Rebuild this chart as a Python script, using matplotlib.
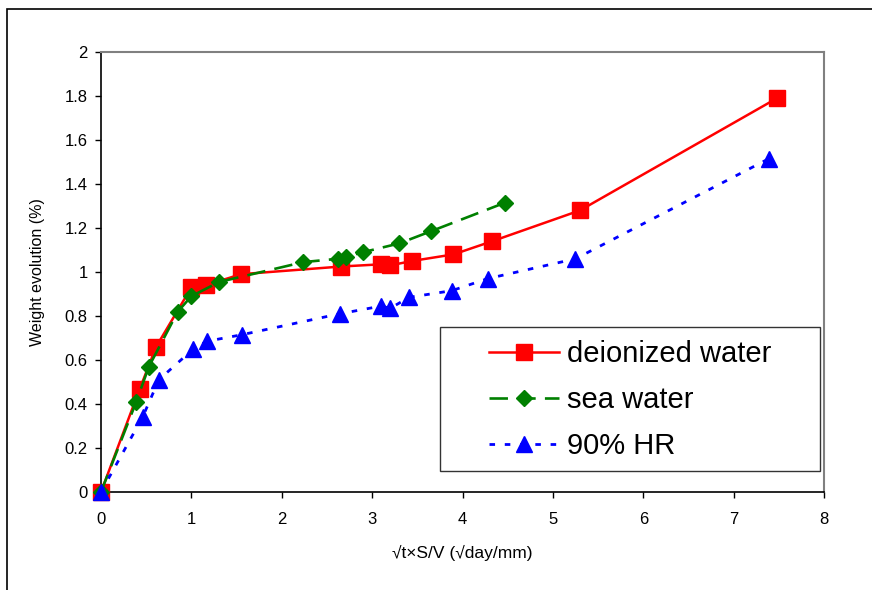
import matplotlib
matplotlib.use("Agg")
import matplotlib.pyplot as plt
from matplotlib.patches import Rectangle

plt.rcParams['font.family'] = ['Liberation Sans', 'DejaVu Sans']

# deionized water
x_di = [0, 0.43, 0.61, 1.0, 1.16, 1.55, 2.66, 3.1, 3.2, 3.44, 3.9, 4.33, 5.3, 7.48]
y_di = [0, 0.47, 0.66, 0.93, 0.94, 0.99, 1.025, 1.035, 1.03, 1.05, 1.08, 1.14, 1.28, 1.79]
# sea water
x_sea = [0, 0.39, 0.53, 0.85, 1.0, 1.31, 2.24, 2.62, 2.71, 2.90, 3.30, 3.65, 4.47]
y_sea = [0, 0.41, 0.57, 0.82, 0.89, 0.955, 1.045, 1.06, 1.07, 1.09, 1.13, 1.185, 1.315]
# 90% HR
x_hr = [0, 0.46, 0.64, 1.02, 1.17, 1.56, 2.64, 3.1, 3.2, 3.41, 3.88, 4.28, 5.25, 7.39]
y_hr = [0, 0.34, 0.51, 0.65, 0.685, 0.715, 0.81, 0.845, 0.835, 0.885, 0.915, 0.97, 1.06, 1.515]

labels = ['deionized water', 'sea water', '90% HR']
xticks = [0, 1, 2, 3, 4, 5, 6, 7, 8]
yticks = [0, 0.2, 0.4, 0.6, 0.8, 1, 1.2, 1.4, 1.6, 1.8, 2]
ytick_labels = ['0', '0.2', '0.4', '0.6', '0.8', '1', '1.2', '1.4', '1.6', '1.8', '2']

fig = plt.figure(figsize=(8.72, 5.90), dpi=100)
ax = fig.add_axes([101/872, 1-492/590, 723/872, 440/590])

# cadre exterieur du graphique
fig.patches.append(Rectangle((7/872, -0.1), 1.2, 1-9/590+0.1, transform=fig.transFigure,
                             fill=False, edgecolor='black', linewidth=1.2))

ax.plot(x_di, y_di, color='red', lw=1.8, marker='s', ms=11, mec='red',
        label=labels[0], clip_on=False, zorder=3)
ax.plot(x_sea, y_sea, color='green', lw=1.9, ls=(0, (7, 3.5)), marker='D', ms=8.5,
        mec='green', label=labels[1], clip_on=False, zorder=4)
ax.plot(x_hr, y_hr, color='blue', lw=2.0, ls=(0, (2, 3.5)), marker='^', ms=11.5,
        mec='blue', label=labels[2], clip_on=False, zorder=5)

ax.set_xlim(0, 8)
ax.set_ylim(0, 2)
ax.set_xticks(xticks)
ax.set_xticklabels([str(t) for t in xticks])
ax.set_yticks(yticks)
ax.set_yticklabels(ytick_labels)
ax.tick_params(direction='out', length=4.5, width=1, labelsize=12)
ax.tick_params(axis='x', pad=10)
ax.tick_params(axis='y', pad=5)

for s in ['top', 'right']:
    ax.spines[s].set_color('#808080')
    ax.spines[s].set_linewidth(1.5)
for s in ['left', 'bottom']:
    ax.spines[s].set_color('black')
    ax.spines[s].set_linewidth(1.2)

ax.set_xlabel('√t×S/V (√day/mm)', fontsize=12.5, labelpad=13)
ax.set_ylabel('Weight evolution (%)', fontsize=11.5, labelpad=14)

# boite de legende tracee a part (marges laterales larges)
ax.add_patch(Rectangle((0.469, 0.048), 0.525, 0.327, transform=ax.transAxes,
                       fill=True, facecolor='white', edgecolor='#333333',
                       linewidth=1.0, zorder=6))
leg = ax.legend(loc='center', bbox_to_anchor=(0.732, 0.209), fontsize=21,
                frameon=False, handlelength=2.4, handletextpad=0.3,
                labelspacing=0.62, borderpad=0.0, borderaxespad=0)
leg.set_zorder(7)

fig.savefig('out.png', dpi=100)
